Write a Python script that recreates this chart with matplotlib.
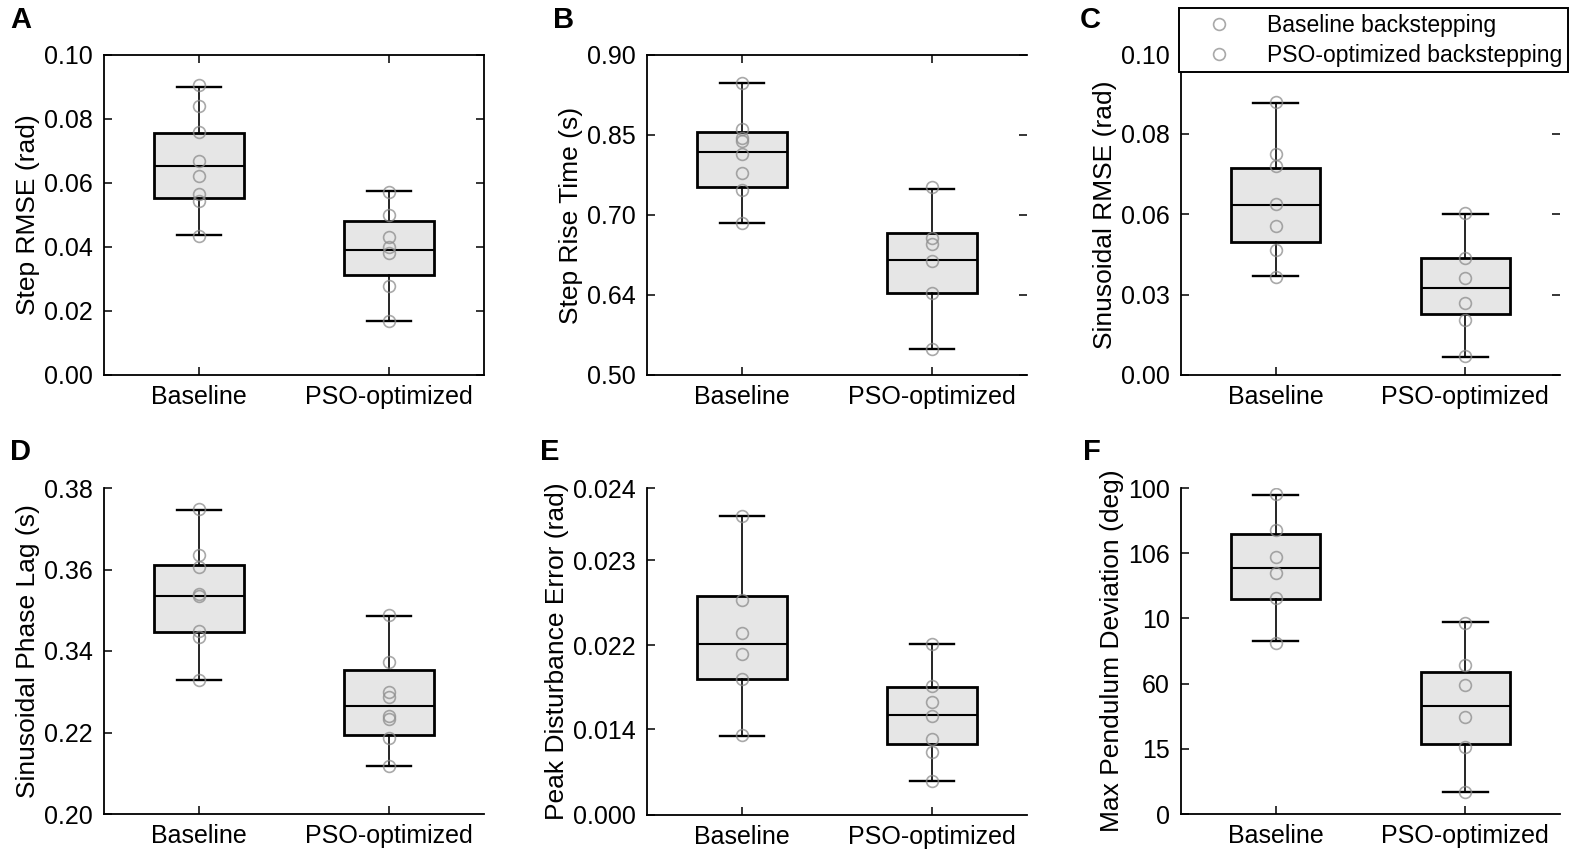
import matplotlib
matplotlib.use("Agg")
from matplotlib import pyplot as plt
from matplotlib.lines import Line2D

plt.rcParams['font.family'] = ['Liberation Sans', 'DejaVu Sans']

# ---- data ----
# y values are given in "tick units": tick label k of a panel sits at position tick_pos[k]
# (the axis labels of the figure are not monotonic, so the grid is the only common scale)
groups = ["Baseline", "PSO-optimized"]

a_ylabel = "Step RMSE (rad)"
a_ticks = ["0.00", "0.02", "0.04", "0.06", "0.08", "0.10"]
a_tick_pos = [0, 1, 2, 3, 4, 5]
a_base_pts = [4.53, 4.21, 3.80, 3.34, 3.11, 2.83, 2.72, 2.17]
a_pso_pts = [2.86, 2.50, 2.15, 2.00, 1.90, 1.39, 0.85]
a_base_box = [2.76, 3.26, 3.78, 2.18, 4.50]   # q1, med, q3, whislo, whishi
a_pso_box = [1.56, 1.95, 2.40, 0.85, 2.87]

b_ylabel = "Step Rise Time (s)"
b_ticks = ["0.50", "0.64", "0.70", "0.85", "0.90"]
b_tick_pos = [0, 1, 2, 3, 4]
b_base_pts = [3.65, 3.08, 2.96, 2.92, 2.76, 2.52, 2.31, 1.90]
b_pso_pts = [2.35, 1.71, 1.64, 1.43, 1.02, 0.32]
b_base_box = [2.35, 2.79, 3.04, 1.90, 3.65]
b_pso_box = [1.03, 1.44, 1.78, 0.32, 2.33]

c_ylabel = "Sinusoidal RMSE (rad)"
c_ticks = ["0.00", "0.03", "0.06", "0.08", "0.10"]
c_tick_pos = [0, 1, 2, 3, 3.98]
c_base_pts = [3.40, 2.75, 2.60, 2.13, 1.85, 1.56, 1.22]
c_pso_pts = [2.01, 1.46, 1.21, 0.90, 0.68, 0.24]
c_base_box = [1.66, 2.11, 2.57, 1.23, 3.38]
c_pso_box = [0.76, 1.08, 1.45, 0.23, 2.00]

d_ylabel = "Sinusoidal Phase Lag (s)"
d_ticks = ["0.20", "0.22", "0.34", "0.36", "0.38"]
d_tick_pos = [0, 1, 2, 3, 4]
d_base_pts = [3.74, 3.18, 3.03, 2.70, 2.68, 2.25, 2.17, 1.64]
d_pso_pts = [2.44, 1.87, 1.50, 1.44, 1.20, 1.16, 0.93, 0.59]
d_base_box = [2.23, 2.68, 3.06, 1.65, 3.73]
d_pso_box = [0.97, 1.33, 1.77, 0.59, 2.43]

e_ylabel = "Peak Disturbance Error (rad)"
e_ticks = ["0.000", "0.014", "0.022", "0.023", "0.024"]
e_tick_pos = [0, 1.02, 2.02, 3.03, 3.89]
e_base_pts = [3.56, 2.56, 2.16, 1.91, 1.62, 0.95]
e_pso_pts = [2.04, 1.53, 1.35, 1.18, 0.91, 0.75, 0.40]
e_base_box = [1.62, 2.03, 2.60, 0.94, 3.56]
e_pso_box = [0.85, 1.19, 1.52, 0.41, 2.03]

f_ylabel = "Max Pendulum Deviation (deg)"
f_ticks = ["0", "15", "60", "10", "106", "100"]
f_tick_pos = [0, 1, 2, 3, 4, 5]
f_base_pts = [4.91, 4.36, 3.94, 3.70, 3.31, 2.63]
f_pso_pts = [2.93, 2.28, 1.98, 1.49, 1.03, 0.33]
f_base_box = [3.29, 3.78, 4.29, 2.65, 4.90]
f_pso_box = [1.08, 1.65, 2.18, 0.34, 2.94]

panels = [
    ("A", a_ylabel, a_ticks, a_tick_pos, a_base_pts, a_pso_pts, a_base_box, a_pso_box),
    ("B", b_ylabel, b_ticks, b_tick_pos, b_base_pts, b_pso_pts, b_base_box, b_pso_box),
    ("C", c_ylabel, c_ticks, c_tick_pos, c_base_pts, c_pso_pts, c_base_box, c_pso_box),
    ("D", d_ylabel, d_ticks, d_tick_pos, d_base_pts, d_pso_pts, d_base_box, d_pso_box),
    ("E", e_ylabel, e_ticks, e_tick_pos, e_base_pts, e_pso_pts, e_base_box, e_pso_box),
    ("F", f_ylabel, f_ticks, f_tick_pos, f_base_pts, f_pso_pts, f_base_box, f_pso_box),
]

W, H = 1575, 859
# axes rectangles in pixels: left, top, right, bottom
rects = {
    "A": (104, 55, 484, 375),
    "B": (647, 55, 1027, 375),
    "C": (1181, 55, 1560, 375),
    "D": (104, 488, 484, 814),
    "E": (647, 488, 1027, 815),
    "F": (1181, 488, 1560, 814),
}
letter_xy = {"A": (10, 6), "B": (553, 6), "C": (1080, 6),
             "D": (10, 438), "E": (540, 438), "F": (1083, 438)}
# which spines are drawn
spines_on = {"A": ("left", "bottom", "top", "right"), "B": ("left", "bottom", "top"),
             "C": ("left", "bottom"), "D": ("left", "bottom"),
             "E": ("left", "bottom"), "F": ("left", "bottom")}
right_ticks = {"A", "B", "C"}
top_ticks = {"A", "B"}

fig = plt.figure(figsize=(W / 100, H / 100), dpi=100)

for letter, ylab, ticks, tpos, base_pts, pso_pts, base_box, pso_box in panels:
    l, t, r, b = rects[letter]
    ax = fig.add_axes([l / W, 1 - b / H, (r - l) / W, (b - t) / H])

    stats = []
    for box in (base_box, pso_box):
        stats.append(dict(q1=box[0], med=box[1], q3=box[2], whislo=box[3], whishi=box[4], fliers=[]))
    ax.bxp(stats, positions=[0, 1], widths=0.47, patch_artist=True, showfliers=False,
           boxprops=dict(facecolor="#e6e6e6", edgecolor="black", linewidth=2.0),
           medianprops=dict(color="black", linewidth=1.5),
           whiskerprops=dict(color="black", linewidth=1.2),
           capprops=dict(color="black", linewidth=1.7))

    for i, pts in enumerate((base_pts, pso_pts)):
        ax.plot([i] * len(pts), pts, linestyle="none", marker="o", markersize=8.5,
                markerfacecolor="none", markeredgecolor="#8c8c8c", markeredgewidth=1.2,
                alpha=0.75, zorder=5)

    ax.set_xlim(-0.5, 1.5)
    ax.set_ylim(0, tpos[-1])
    ax.set_yticks(tpos)
    ax.set_yticklabels(ticks)
    ax.set_xticks([0, 1])
    ax.set_xticklabels(groups)
    ax.set_ylabel(ylab, fontsize=19, labelpad=3)

    for side in ("left", "bottom", "top", "right"):
        ax.spines[side].set_visible(side in spines_on[letter])
        ax.spines[side].set_linewidth(1.3)

    ax.tick_params(axis="both", direction="in", labelsize=18, width=1.1, length=6)
    ax.tick_params(axis="x", pad=7)
    ax.tick_params(axis="y", pad=8)
    ax.tick_params(right=letter in right_ticks, top=letter in top_ticks)

    fig.text(letter_xy[letter][0] / W, 1 - letter_xy[letter][1] / H, letter,
             fontsize=21, fontweight="bold", va="top", ha="left")

handles = [Line2D([], [], linestyle="none", marker="o", markersize=8.5, markerfacecolor="none",
                  markeredgecolor="#8c8c8c", markeredgewidth=1.2, alpha=0.75) for _ in groups]
leg = fig.legend(handles, ["Baseline backstepping", "PSO-optimized backstepping"],
                 loc="upper left", bbox_to_anchor=(1179 / W, 1 - 8 / H), borderaxespad=0,
                 fontsize=16.5, frameon=True, fancybox=False, edgecolor="black", framealpha=1,
                 labelspacing=0.3, handlelength=3.0, handletextpad=0.6, borderpad=0.25)
leg.get_frame().set_linewidth(1.4)

fig.savefig("out.png", dpi=100)
